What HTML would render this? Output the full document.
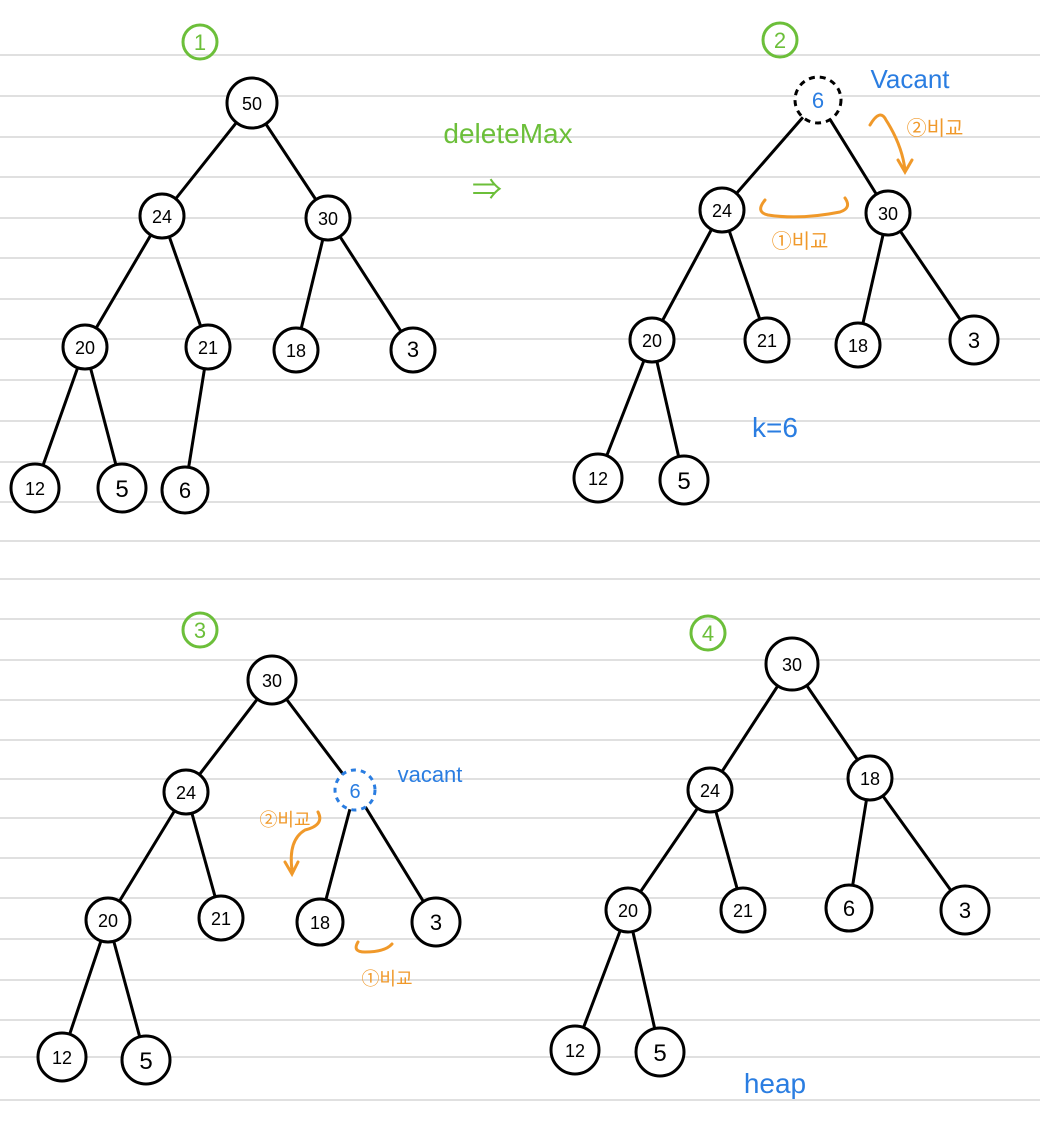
<!DOCTYPE html>
<html><head><meta charset="utf-8"><style>
html,body{margin:0;padding:0;background:#fff}
svg{display:block}
text{font-family:"Liberation Sans","Noto Sans CJK KR",sans-serif}
</style></head><body>
<svg width="1040" height="1131" viewBox="0 0 1040 1131" xmlns="http://www.w3.org/2000/svg">
<g stroke="#e0e0e0" stroke-width="2">
<line x1="0" x2="1040" y1="55" y2="55"/><line x1="0" x2="1040" y1="96" y2="96"/><line x1="0" x2="1040" y1="137" y2="137"/><line x1="0" x2="1040" y1="177" y2="177"/><line x1="0" x2="1040" y1="218" y2="218"/><line x1="0" x2="1040" y1="258" y2="258"/><line x1="0" x2="1040" y1="299" y2="299"/><line x1="0" x2="1040" y1="339" y2="339"/><line x1="0" x2="1040" y1="380" y2="380"/><line x1="0" x2="1040" y1="421" y2="421"/><line x1="0" x2="1040" y1="462" y2="462"/><line x1="0" x2="1040" y1="502" y2="502"/><line x1="0" x2="1040" y1="541" y2="541"/><line x1="0" x2="1040" y1="579" y2="579"/><line x1="0" x2="1040" y1="619" y2="619"/><line x1="0" x2="1040" y1="660" y2="660"/><line x1="0" x2="1040" y1="700" y2="700"/><line x1="0" x2="1040" y1="740" y2="740"/><line x1="0" x2="1040" y1="779" y2="779"/><line x1="0" x2="1040" y1="818" y2="818"/><line x1="0" x2="1040" y1="858" y2="858"/><line x1="0" x2="1040" y1="898" y2="898"/><line x1="0" x2="1040" y1="939" y2="939"/><line x1="0" x2="1040" y1="980" y2="980"/><line x1="0" x2="1040" y1="1020" y2="1020"/><line x1="0" x2="1040" y1="1057" y2="1057"/><line x1="0" x2="1040" y1="1100" y2="1100"/>
</g>
<g stroke="#000" stroke-width="3" stroke-linecap="round" fill="none">
<!-- tree1 -->
<line x1="252" y1="103" x2="162" y2="216"/><line x1="252" y1="103" x2="328" y2="218"/>
<line x1="162" y1="216" x2="85" y2="347"/><line x1="162" y1="216" x2="208" y2="347"/>
<line x1="328" y1="218" x2="296" y2="350"/><line x1="328" y1="218" x2="413" y2="350"/>
<line x1="85" y1="347" x2="35" y2="488"/><line x1="85" y1="347" x2="122" y2="488"/><line x1="208" y1="347" x2="185" y2="490"/>
<!-- tree2 -->
<line x1="818" y1="100" x2="722" y2="210"/><line x1="818" y1="100" x2="888" y2="213"/>
<line x1="722" y1="210" x2="652" y2="340"/><line x1="722" y1="210" x2="767" y2="340"/>
<line x1="888" y1="213" x2="858" y2="345"/><line x1="888" y1="213" x2="974" y2="340"/>
<line x1="652" y1="340" x2="598" y2="478"/><line x1="652" y1="340" x2="684" y2="480"/>
<!-- tree3 -->
<line x1="272" y1="680" x2="186" y2="792"/><line x1="272" y1="680" x2="355" y2="790"/>
<line x1="186" y1="792" x2="108" y2="920"/><line x1="186" y1="792" x2="221" y2="918"/>
<line x1="355" y1="790" x2="320" y2="922"/><line x1="355" y1="790" x2="436" y2="922"/>
<line x1="108" y1="920" x2="62" y2="1057"/><line x1="108" y1="920" x2="146" y2="1060"/>
<!-- tree4 -->
<line x1="792" y1="664" x2="710" y2="790"/><line x1="792" y1="664" x2="870" y2="778"/>
<line x1="710" y1="790" x2="628" y2="910"/><line x1="710" y1="790" x2="743" y2="910"/>
<line x1="870" y1="778" x2="849" y2="908"/><line x1="870" y1="778" x2="965" y2="910"/>
<line x1="628" y1="910" x2="575" y2="1050"/><line x1="628" y1="910" x2="660" y2="1052"/>
</g>
<g stroke="#000" stroke-width="3" fill="#fff">
<circle cx="252" cy="103" r="25"/><circle cx="162" cy="216" r="22"/><circle cx="328" cy="218" r="22"/>
<circle cx="85" cy="347" r="22"/><circle cx="208" cy="347" r="22"/><circle cx="296" cy="350" r="22"/><circle cx="413" cy="350" r="22"/>
<circle cx="35" cy="488" r="24"/><circle cx="122" cy="488" r="24"/><circle cx="185" cy="490" r="23"/>
<circle cx="722" cy="210" r="22"/><circle cx="888" cy="213" r="22"/>
<circle cx="652" cy="340" r="22"/><circle cx="767" cy="340" r="22"/><circle cx="858" cy="345" r="22"/><circle cx="974" cy="340" r="24"/>
<circle cx="598" cy="478" r="24"/><circle cx="684" cy="480" r="24"/>
<circle cx="272" cy="680" r="24"/><circle cx="186" cy="792" r="22"/>
<circle cx="108" cy="920" r="22"/><circle cx="221" cy="918" r="22"/><circle cx="320" cy="922" r="23"/><circle cx="436" cy="922" r="24"/>
<circle cx="62" cy="1057" r="24"/><circle cx="146" cy="1060" r="24"/>
<circle cx="792" cy="664" r="26"/><circle cx="710" cy="790" r="22"/><circle cx="870" cy="778" r="22"/>
<circle cx="628" cy="910" r="22"/><circle cx="743" cy="910" r="22"/><circle cx="849" cy="908" r="23"/><circle cx="965" cy="910" r="24"/>
<circle cx="575" cy="1050" r="24"/><circle cx="660" cy="1052" r="24"/>
</g>
<circle cx="818" cy="100" r="23" stroke="#000" stroke-width="3" stroke-dasharray="6 5" fill="#fff"/>
<circle cx="355" cy="790" r="20" stroke="#2a7de1" stroke-width="3" stroke-dasharray="5 5" fill="#fff"/>
<g font-size="18" text-anchor="middle" fill="#000">
<text x="252" y="110">50</text><text x="162" y="223">24</text><text x="328" y="225">30</text>
<text x="85" y="354">20</text><text x="208" y="354">21</text><text x="296" y="357">18</text><text x="413" y="357" font-size="22">3</text>
<text x="35" y="495">12</text><text x="122" y="497" font-size="24">5</text><text x="185" y="498" font-size="22">6</text>
<text x="722" y="217">24</text><text x="888" y="220">30</text>
<text x="652" y="347">20</text><text x="767" y="347">21</text><text x="858" y="352">18</text><text x="974" y="348" font-size="22">3</text>
<text x="598" y="485">12</text><text x="684" y="489" font-size="24">5</text>
<text x="272" y="687">30</text><text x="186" y="799">24</text>
<text x="108" y="927">20</text><text x="221" y="925">21</text><text x="320" y="929">18</text><text x="436" y="930" font-size="22">3</text>
<text x="62" y="1064">12</text><text x="146" y="1069" font-size="24">5</text>
<text x="792" y="671">30</text><text x="710" y="797">24</text><text x="870" y="785">18</text>
<text x="628" y="917">20</text><text x="743" y="917">21</text><text x="849" y="916" font-size="22">6</text><text x="965" y="918" font-size="22">3</text>
<text x="575" y="1057">12</text><text x="660" y="1061" font-size="24">5</text>
</g>
<g fill="#2a7de1" font-size="22" text-anchor="middle">
<text x="818" y="108">6</text><text x="355" y="798" font-size="20">6</text>
</g>
<!-- green -->
<g stroke="#6cbf3a" stroke-width="3" fill="none">
<circle cx="200" cy="42" r="17"/><circle cx="780" cy="40" r="17"/><circle cx="200" cy="630" r="17"/><circle cx="708" cy="633" r="17"/>
</g>
<g fill="#6cbf3a" font-size="22" text-anchor="middle">
<text x="200" y="50">1</text><text x="780" y="48">2</text><text x="200" y="638">3</text><text x="708" y="641">4</text>
<text x="508" y="143" font-size="28">deleteMax</text>
<text x="487" y="200" font-size="30">⇒</text>
</g>
<g fill="#2a7de1" text-anchor="middle">
<text x="910" y="88" font-size="26">Vacant</text>
<text x="430" y="782" font-size="22">vacant</text>
<text x="775" y="437" font-size="28">k=6</text>
<text x="775" y="1093" font-size="28">heap</text>
</g>
<g fill="#f0992a" font-family="Liberation Sans,Noto Sans CJK KR,sans-serif" text-anchor="middle">
<text x="935" y="135" font-size="20">②비교</text>
<text x="800" y="248" font-size="20">①비교</text>
<text x="285" y="826" font-size="18">②비교</text>
<text x="387" y="985" font-size="18">①비교</text>
</g>
<g stroke="#f0992a" stroke-width="3" fill="none" stroke-linecap="round">
<path d="M765 200 Q755 212 768 215 Q800 220 840 212 Q852 208 845 198"/>
<path d="M870 125 Q880 108 886 120 Q902 145 905 170 M898 160 L905 172 L912 160"/>
<path d="M318 812 Q325 825 305 830 Q288 840 292 870 M285 862 L292 874 L298 862"/>
<path d="M358 942 Q352 952 365 952 Q385 952 392 944"/>
</g>
</svg>
</body></html>
